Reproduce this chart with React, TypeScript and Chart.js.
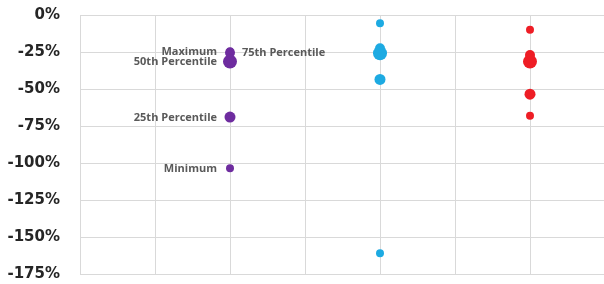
import React, { useEffect, useRef } from "react";
import { Chart, registerables } from "chart.js";

Chart.register(...registerables);

// Data
const categories = ["Maximum", "75th Percentile", "50th Percentile", "25th Percentile", "Minimum"];
const purpleValues = [-24.5, -25.5, -31.5, -69, -103.5];
const blueValues = [-5.5, -22.5, -25.8, -43.5, -161];
const redValues = [-10, -27, -31.5, -53.5, -68];
const seriesX = [2, 4, 6];
const yTickValues = [0, -25, -50, -75, -100, -125, -150, -175];

// Styles
const pointSizes = [4, 5, 7, 5.5, 4];
const labelSides = ["left", "right", "left", "left", "left"];
const colors = ["#6E2C9F", "#1DAAE2", "#EE1D25"];

const labelPlugin = {
  id: "pointLabels",
  afterDatasetsDraw(chart: any) {
    const meta = chart.getDatasetMeta(0);
    const ctx = chart.ctx;
    ctx.save();
    ctx.font = "bold 11px 'Open Sans'";
    ctx.fillStyle = "#595959";
    ctx.textBaseline = "middle";
    meta.data.forEach((el: any, i: number) => {
      const side = labelSides[i];
      if (side === "left") {
        ctx.textAlign = "right";
        ctx.fillText(categories[i], el.x - 13, el.y + 0.5);
      } else {
        ctx.textAlign = "left";
        ctx.fillText(categories[i], el.x + 12, el.y + 0.5);
      }
    });
    ctx.restore();
  },
};

export default function App() {
  const ref = useRef<HTMLCanvasElement>(null);
  useEffect(() => {
    if (!ref.current) return;
    const all = [purpleValues, blueValues, redValues];
    const chart = new Chart(ref.current, {
      type: "scatter",
      data: {
        datasets: all.map((vals, s) => ({
          label: "s" + s,
          data: vals.map((v) => ({ x: seriesX[s], y: v })),
          backgroundColor: colors[s],
          borderColor: colors[s],
          borderWidth: 0,
          pointRadius: pointSizes,
          pointHoverRadius: pointSizes,
        })),
      },
      options: {
        responsive: false,
        animation: false,
        events: [],
        layout: { padding: { top: 15, bottom: 10, left: 0, right: 5 } },
        plugins: { legend: { display: false }, tooltip: { enabled: false } },
        scales: {
          x: {
            type: "linear",
            min: 0,
            max: 7,
            ticks: { display: false, stepSize: 1, padding: 0 },
            grid: { color: "#D9D9D9", lineWidth: 1, drawTicks: false },
            border: { display: false },
            afterFit: (scale: any) => {
              scale.height = 0;
              scale.paddingTop = 0;
              scale.paddingBottom = 0;
            },
          },
          y: {
            min: -175,
            max: 0,
            afterBuildTicks: (scale: any) => {
              scale.ticks = yTickValues.map((v) => ({ value: v }));
            },
            ticks: {
              callback: (v: any) => v + "%",
              color: "#262626",
              font: { family: "'DejaVu Sans'", weight: "bold", size: 15 },
              padding: 20,
            },
            grid: { color: "#D9D9D9", lineWidth: 1, drawTicks: false },
            border: { display: true, color: "#D9D9D9" },
            afterFit: (scale: any) => {
              scale.width = 80;
              scale.paddingTop = 0;
              scale.paddingBottom = 0;
            },
          },
        },
      },
      plugins: [labelPlugin],
    });
    return () => chart.destroy();
  }, []);
  return (
    <div style={{ position: "fixed", left: 0, top: 0, width: 604, height: 284, overflow: "hidden", background: "#fff" }}>
      <canvas ref={ref} width={612} height={284} style={{ display: "block" }} />
    </div>
  );
}
